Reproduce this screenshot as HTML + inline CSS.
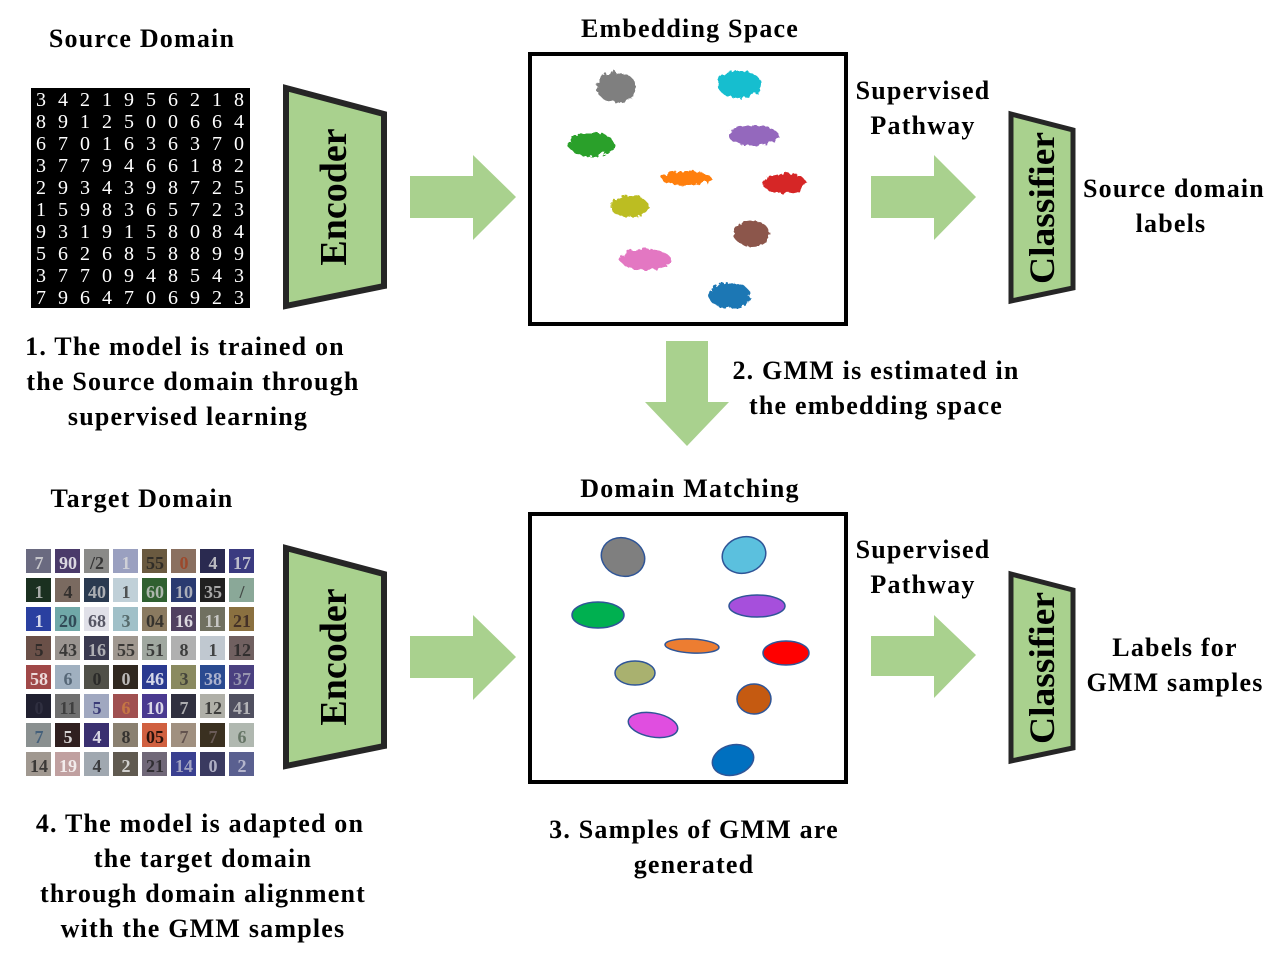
<!DOCTYPE html>
<html><head><meta charset="utf-8"><style>
body{margin:0;background:#fff}
svg{display:block}
text{font-family:"Liberation Serif",serif;font-weight:bold;fill:#000}
.l{letter-spacing:1.2px}
</style></head><body>
<svg width="1286" height="962" viewBox="0 0 1286 962" xmlns="http://www.w3.org/2000/svg">
<defs>
<filter id="rough"><feTurbulence baseFrequency="0.12" numOctaves="2" seed="3"/><feDisplacementMap in="SourceGraphic" scale="6"/></filter>
</defs>
<g class="l" font-size="26" text-anchor="middle">
<text x="142" y="47">Source Domain</text>
<text x="690" y="37">Embedding Space</text>
<text x="142" y="507">Target Domain</text>
<text x="690" y="497">Domain Matching</text>
</g>

<!-- MNIST -->
<rect x="31" y="88" width="219" height="220" fill="#000"/>
<g font-size="20" text-anchor="middle" style="font-weight:normal">
<text y="106" style="fill:#fff;font-weight:normal"><tspan x="41">3</tspan><tspan x="63">4</tspan><tspan x="85">2</tspan><tspan x="107">1</tspan><tspan x="129">9</tspan><tspan x="151">5</tspan><tspan x="173">6</tspan><tspan x="195">2</tspan><tspan x="217">1</tspan><tspan x="239">8</tspan></text>
<text y="128" style="fill:#fff;font-weight:normal"><tspan x="41">8</tspan><tspan x="63">9</tspan><tspan x="85">1</tspan><tspan x="107">2</tspan><tspan x="129">5</tspan><tspan x="151">0</tspan><tspan x="173">0</tspan><tspan x="195">6</tspan><tspan x="217">6</tspan><tspan x="239">4</tspan></text>
<text y="150" style="fill:#fff;font-weight:normal"><tspan x="41">6</tspan><tspan x="63">7</tspan><tspan x="85">0</tspan><tspan x="107">1</tspan><tspan x="129">6</tspan><tspan x="151">3</tspan><tspan x="173">6</tspan><tspan x="195">3</tspan><tspan x="217">7</tspan><tspan x="239">0</tspan></text>
<text y="172" style="fill:#fff;font-weight:normal"><tspan x="41">3</tspan><tspan x="63">7</tspan><tspan x="85">7</tspan><tspan x="107">9</tspan><tspan x="129">4</tspan><tspan x="151">6</tspan><tspan x="173">6</tspan><tspan x="195">1</tspan><tspan x="217">8</tspan><tspan x="239">2</tspan></text>
<text y="194" style="fill:#fff;font-weight:normal"><tspan x="41">2</tspan><tspan x="63">9</tspan><tspan x="85">3</tspan><tspan x="107">4</tspan><tspan x="129">3</tspan><tspan x="151">9</tspan><tspan x="173">8</tspan><tspan x="195">7</tspan><tspan x="217">2</tspan><tspan x="239">5</tspan></text>
<text y="216" style="fill:#fff;font-weight:normal"><tspan x="41">1</tspan><tspan x="63">5</tspan><tspan x="85">9</tspan><tspan x="107">8</tspan><tspan x="129">3</tspan><tspan x="151">6</tspan><tspan x="173">5</tspan><tspan x="195">7</tspan><tspan x="217">2</tspan><tspan x="239">3</tspan></text>
<text y="238" style="fill:#fff;font-weight:normal"><tspan x="41">9</tspan><tspan x="63">3</tspan><tspan x="85">1</tspan><tspan x="107">9</tspan><tspan x="129">1</tspan><tspan x="151">5</tspan><tspan x="173">8</tspan><tspan x="195">0</tspan><tspan x="217">8</tspan><tspan x="239">4</tspan></text>
<text y="260" style="fill:#fff;font-weight:normal"><tspan x="41">5</tspan><tspan x="63">6</tspan><tspan x="85">2</tspan><tspan x="107">6</tspan><tspan x="129">8</tspan><tspan x="151">5</tspan><tspan x="173">8</tspan><tspan x="195">8</tspan><tspan x="217">9</tspan><tspan x="239">9</tspan></text>
<text y="282" style="fill:#fff;font-weight:normal"><tspan x="41">3</tspan><tspan x="63">7</tspan><tspan x="85">7</tspan><tspan x="107">0</tspan><tspan x="129">9</tspan><tspan x="151">4</tspan><tspan x="173">8</tspan><tspan x="195">5</tspan><tspan x="217">4</tspan><tspan x="239">3</tspan></text>
<text y="304" style="fill:#fff;font-weight:normal"><tspan x="41">7</tspan><tspan x="63">9</tspan><tspan x="85">6</tspan><tspan x="107">4</tspan><tspan x="129">7</tspan><tspan x="151">0</tspan><tspan x="173">6</tspan><tspan x="195">9</tspan><tspan x="217">2</tspan><tspan x="239">3</tspan></text>
</g>

<!-- SVHN tiles -->
<g>
<rect x="26" y="549" width="25" height="24" fill="#6a6a80"/><rect x="55" y="549" width="25" height="24" fill="#4a3a6a"/><rect x="84" y="549" width="25" height="24" fill="#8a8a88"/><rect x="113" y="549" width="25" height="24" fill="#9aa0c0"/><rect x="142" y="549" width="25" height="24" fill="#6a5a40"/><rect x="171" y="549" width="25" height="24" fill="#8a7060"/><rect x="200" y="549" width="25" height="24" fill="#2a2a50"/><rect x="229" y="549" width="25" height="24" fill="#3a3a80"/>
<rect x="26" y="578" width="25" height="24" fill="#1a3020"/><rect x="55" y="578" width="25" height="24" fill="#7a6a60"/><rect x="84" y="578" width="25" height="24" fill="#2a3a50"/><rect x="113" y="578" width="25" height="24" fill="#c0d0d8"/><rect x="142" y="578" width="25" height="24" fill="#306030"/><rect x="171" y="578" width="25" height="24" fill="#2a3a70"/><rect x="200" y="578" width="25" height="24" fill="#202020"/><rect x="229" y="578" width="25" height="24" fill="#8aa898"/>
<rect x="26" y="607" width="25" height="24" fill="#2a40a0"/><rect x="55" y="607" width="25" height="24" fill="#70a8a8"/><rect x="84" y="607" width="25" height="24" fill="#e0e0e8"/><rect x="113" y="607" width="25" height="24" fill="#a0c0c8"/><rect x="142" y="607" width="25" height="24" fill="#8a7a60"/><rect x="171" y="607" width="25" height="24" fill="#504060"/><rect x="200" y="607" width="25" height="24" fill="#707060"/><rect x="229" y="607" width="25" height="24" fill="#8a7040"/>
<rect x="26" y="636" width="25" height="24" fill="#6a5048"/><rect x="55" y="636" width="25" height="24" fill="#9a9490"/><rect x="84" y="636" width="25" height="24" fill="#3a3a50"/><rect x="113" y="636" width="25" height="24" fill="#a09890"/><rect x="142" y="636" width="25" height="24" fill="#a0a8a0"/><rect x="171" y="636" width="25" height="24" fill="#b0b0b0"/><rect x="200" y="636" width="25" height="24" fill="#c0c8d0"/><rect x="229" y="636" width="25" height="24" fill="#706060"/>
<rect x="26" y="665" width="25" height="24" fill="#a04848"/><rect x="55" y="665" width="25" height="24" fill="#a0b0c0"/><rect x="84" y="665" width="25" height="24" fill="#505048"/><rect x="113" y="665" width="25" height="24" fill="#302820"/><rect x="142" y="665" width="25" height="24" fill="#2a3a90"/><rect x="171" y="665" width="25" height="24" fill="#8a8a60"/><rect x="200" y="665" width="25" height="24" fill="#2a4a90"/><rect x="229" y="665" width="25" height="24" fill="#4a4080"/>
<rect x="26" y="694" width="25" height="24" fill="#202030"/><rect x="55" y="694" width="25" height="24" fill="#707070"/><rect x="84" y="694" width="25" height="24" fill="#a0a8c0"/><rect x="113" y="694" width="25" height="24" fill="#a05050"/><rect x="142" y="694" width="25" height="24" fill="#4a3a90"/><rect x="171" y="694" width="25" height="24" fill="#303040"/><rect x="200" y="694" width="25" height="24" fill="#b0b0a8"/><rect x="229" y="694" width="25" height="24" fill="#505060"/>
<rect x="26" y="723" width="25" height="24" fill="#8a9090"/><rect x="55" y="723" width="25" height="24" fill="#302020"/><rect x="84" y="723" width="25" height="24" fill="#3a3070"/><rect x="113" y="723" width="25" height="24" fill="#8a8070"/><rect x="142" y="723" width="25" height="24" fill="#d06040"/><rect x="171" y="723" width="25" height="24" fill="#a09080"/><rect x="200" y="723" width="25" height="24" fill="#3a3020"/><rect x="229" y="723" width="25" height="24" fill="#b0b8b0"/>
<rect x="26" y="752" width="25" height="24" fill="#a09890"/><rect x="55" y="752" width="25" height="24" fill="#c0a0a0"/><rect x="84" y="752" width="25" height="24" fill="#a0a8b0"/><rect x="113" y="752" width="25" height="24" fill="#605a50"/><rect x="142" y="752" width="25" height="24" fill="#706878"/><rect x="171" y="752" width="25" height="24" fill="#3a4090"/><rect x="200" y="752" width="25" height="24" fill="#3a3a60"/><rect x="229" y="752" width="25" height="24" fill="#5a6090"/>
</g>
<g font-size="18" text-anchor="middle" opacity="0.8">
<text y="569" style="fill:#ddd"><tspan x="39">7</tspan><tspan x="68" style="fill:#fff">90</tspan><tspan x="97" style="fill:#222">/2</tspan><tspan x="126">1</tspan><tspan x="155" style="fill:#222">55</tspan><tspan x="184" style="fill:#a04020">0</tspan><tspan x="213">4</tspan><tspan x="242">17</tspan></text>
<text y="598" style="fill:#ccc"><tspan x="39">1</tspan><tspan x="68" style="fill:#222">4</tspan><tspan x="97">40</tspan><tspan x="126" style="fill:#333">1</tspan><tspan x="155">60</tspan><tspan x="184">10</tspan><tspan x="213">35</tspan><tspan x="242" style="fill:#333">/</tspan></text>
<text y="627" style="fill:#fff"><tspan x="39">1</tspan><tspan x="68" style="fill:#234">20</tspan><tspan x="97" style="fill:#334">68</tspan><tspan x="126" style="fill:#455">3</tspan><tspan x="155" style="fill:#222">04</tspan><tspan x="184">16</tspan><tspan x="213" style="fill:#ddd">11</tspan><tspan x="242" style="fill:#322">21</tspan></text>
<text y="656" style="fill:#222"><tspan x="39">5</tspan><tspan x="68">43</tspan><tspan x="97" style="fill:#ccc">16</tspan><tspan x="126">55</tspan><tspan x="155">51</tspan><tspan x="184">8</tspan><tspan x="213">1</tspan><tspan x="242">12</tspan></text>
<text y="685" style="fill:#fff"><tspan x="39">58</tspan><tspan x="68" style="fill:#456">6</tspan><tspan x="97" style="fill:#222">0</tspan><tspan x="126" style="fill:#ddd">0</tspan><tspan x="155">46</tspan><tspan x="184" style="fill:#333">3</tspan><tspan x="213" style="fill:#ccd">38</tspan><tspan x="242" style="fill:#aab">37</tspan></text>
<text y="714" style="fill:#ccc"><tspan x="39" style="fill:#334">0</tspan><tspan x="68" style="fill:#333">11</tspan><tspan x="97" style="fill:#226">5</tspan><tspan x="126" style="fill:#d08040">6</tspan><tspan x="155" style="fill:#fff">10</tspan><tspan x="184">7</tspan><tspan x="213" style="fill:#222">12</tspan><tspan x="242">41</tspan></text>
<text y="743" style="fill:#357"><tspan x="39">7</tspan><tspan x="68" style="fill:#fff">5</tspan><tspan x="97" style="fill:#fff">4</tspan><tspan x="126" style="fill:#222">8</tspan><tspan x="155" style="fill:#000">05</tspan><tspan x="184" style="fill:#544">7</tspan><tspan x="213" style="fill:#766">7</tspan><tspan x="242" style="fill:#565">6</tspan></text>
<text y="772" style="fill:#222"><tspan x="39">14</tspan><tspan x="68" style="fill:#fff">19</tspan><tspan x="97">4</tspan><tspan x="126" style="fill:#eee">2</tspan><tspan x="155">21</tspan><tspan x="184" style="fill:#bbc">14</tspan><tspan x="213" style="fill:#ccd">0</tspan><tspan x="242" style="fill:#ccd">2</tspan></text>
</g>

<!-- Encoders -->
<polygon points="286,88 384,114 384,286 286,306" fill="#a9d18e" stroke="#262626" stroke-width="6"/>
<text transform="translate(346,197) rotate(-90)" font-size="38" text-anchor="middle">Encoder</text>
<polygon points="286,548 384,574 384,746 286,766" fill="#a9d18e" stroke="#262626" stroke-width="6"/>
<text transform="translate(346,657) rotate(-90)" font-size="38" text-anchor="middle">Encoder</text>

<!-- Classifiers -->
<polygon points="1011,114 1073,130 1073,288 1011,301" fill="#a9d18e" stroke="#262626" stroke-width="5"/>
<text transform="translate(1054,208) rotate(-90)" font-size="36" text-anchor="middle" textLength="152" lengthAdjust="spacingAndGlyphs">Classifier</text>
<polygon points="1011,574 1073,590 1073,748 1011,761" fill="#a9d18e" stroke="#262626" stroke-width="5"/>
<text transform="translate(1054,668) rotate(-90)" font-size="36" text-anchor="middle" textLength="152" lengthAdjust="spacingAndGlyphs">Classifier</text>

<!-- arrows -->
<g fill="#a9d18e">
<polygon points="410,176 473,176 473,155 516,197 473,240 473,218 410,218"/>
<polygon points="410,636 473,636 473,615 516,657 473,700 473,678 410,678"/>
<polygon points="871,176 934,176 934,155 976,197 934,240 934,218 871,218"/>
<polygon points="871,636 934,636 934,615 976,655 934,698 934,676 871,676"/>
<polygon points="666,341 708,341 708,402 729,402 687,446 645,402 666,402"/>
</g>

<!-- boxes -->
<rect x="530" y="54" width="316" height="270" fill="#fff" stroke="#000" stroke-width="4"/>
<rect x="530" y="514" width="316" height="268" fill="#fff" stroke="#000" stroke-width="4"/>

<g filter="url(#rough)">
<ellipse cx="615" cy="86" rx="20" ry="15" fill="#7f7f7f"/>
<ellipse cx="738" cy="83" rx="22" ry="14" fill="#17becf"/>
<ellipse cx="590" cy="143" rx="23" ry="12" fill="#2ca02c"/>
<ellipse cx="752" cy="134" rx="25" ry="10" fill="#9467bd"/>
<ellipse cx="685" cy="177" rx="25" ry="7" fill="#ff7f0e"/>
<ellipse cx="783" cy="182" rx="22" ry="10" fill="#d62728"/>
<ellipse cx="628" cy="205" rx="19" ry="11" fill="#bcbd22"/>
<ellipse cx="750" cy="232" rx="18" ry="13" fill="#8c564b"/>
<ellipse cx="644" cy="258" rx="25" ry="11" fill="#e377c2"/>
<ellipse cx="728" cy="294" rx="21" ry="13" fill="#1f77b4"/>
</g>

<g stroke="#2f5597" stroke-width="1.5">
<ellipse cx="623" cy="557" rx="22" ry="19" fill="#7f7f7f" transform="rotate(20 623 557)"/>
<ellipse cx="744" cy="555" rx="22" ry="18" fill="#5bc0de" transform="rotate(-15 744 555)"/>
<ellipse cx="598" cy="615" rx="26" ry="13" fill="#00b050"/>
<ellipse cx="757" cy="606" rx="28" ry="11" fill="#a64fdc"/>
<ellipse cx="692" cy="646" rx="27" ry="7" fill="#ed7d31" transform="rotate(3 692 646)"/>
<ellipse cx="786" cy="653" rx="23" ry="12" fill="#ff0000"/>
<ellipse cx="635" cy="673" rx="20" ry="12" fill="#a9b16f"/>
<ellipse cx="754" cy="699" rx="17" ry="15" fill="#c55a11"/>
<ellipse cx="653" cy="725" rx="25" ry="12" fill="#e04ee0" transform="rotate(10 653 725)"/>
<ellipse cx="733" cy="760" rx="21" ry="15" fill="#0070c0" transform="rotate(-15 733 760)"/>
</g>

<g class="l" font-size="26" text-anchor="middle">
<text x="923" y="99">Supervised</text>
<text x="923" y="134">Pathway</text>
<text x="923" y="558">Supervised</text>
<text x="923" y="593">Pathway</text>
<text x="1174" y="197">Source domain</text>
<text x="1171" y="232">labels</text>
<text x="1175" y="656">Labels for</text>
<text x="1175" y="691">GMM samples</text>
<text x="185" y="355">1. The model is trained on</text>
<text x="193" y="390">the Source domain  through</text>
<text x="188" y="425">supervised learning</text>
<text x="876" y="379">2. GMM is estimated in</text>
<text x="876" y="414">the embedding space</text>
<text x="694" y="838">3. Samples of GMM are</text>
<text x="694" y="873">generated</text>
<text x="200" y="832">4. The model is adapted on</text>
<text x="203" y="867">the target domain</text>
<text x="203" y="902">through domain alignment</text>
<text x="203" y="937">with the GMM samples</text>
</g>
</svg>
</body></html>
